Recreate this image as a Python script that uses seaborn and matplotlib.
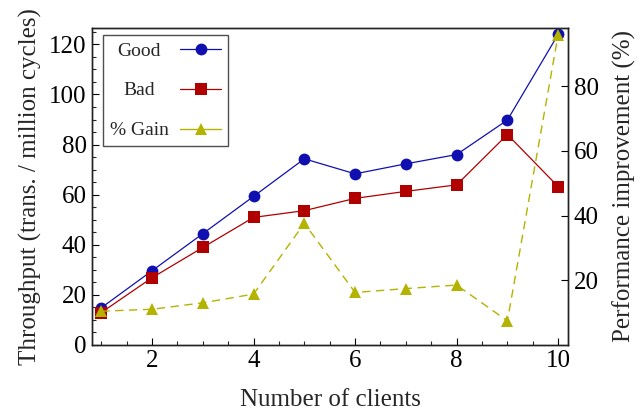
import matplotlib
matplotlib.use('Agg')
import matplotlib.pyplot as plt
from matplotlib.lines import Line2D
from matplotlib.ticker import MultipleLocator
import seaborn as sns

# Data
clients = [1, 2, 3, 4, 5, 6, 7, 8, 9, 10]
good = [14.8, 29.6, 44.4, 59.3, 74.3, 68.3, 72.3, 76.0, 89.8, 124.0]
bad = [12.9, 26.8, 38.9, 50.9, 53.6, 58.5, 61.3, 63.9, 84.0, 63.2]
gain = [10.4, 11.0, 13.0, 15.7, 37.6, 16.2, 17.4, 18.5, 7.4, 96.0]
series_names = ['Good', 'Bad', '% Gain']

sns.set_style('ticks')
plt.rcParams['font.family'] = ['Liberation Serif', 'DejaVu Serif']

c_good, c_bad, c_gain = '#1010b0', '#b00000', '#b3b300'

fig = plt.figure(figsize=(6.4, 4.2), dpi=100)
ax = fig.add_axes([0.144, 0.179, 0.744, 0.754])
ax2 = ax.twinx()

sns.lineplot(x=clients, y=good, ax=ax, color=c_good, marker='o', markersize=8.5,
             markeredgewidth=0, linewidth=0.9, legend=False)
sns.lineplot(x=clients, y=bad, ax=ax, color=c_bad, marker='s', markersize=8.5,
             markeredgewidth=0, linewidth=0.9, legend=False)
sns.lineplot(x=clients, y=gain, ax=ax2, color=c_gain, marker='^', markersize=8.5,
             markeredgewidth=0, linewidth=1.0, linestyle=(0, (6, 4)), legend=False)

for line in ax.get_lines() + ax2.get_lines():
    line.set_clip_on(False)

ax.set_xlim(0.82, 10.2)
ax.set_ylim(0, 126.5)
ax2.set_ylim(0, 98)

ax.xaxis.set_major_locator(MultipleLocator(2))
ax.xaxis.set_minor_locator(MultipleLocator(0.5))
ax.yaxis.set_major_locator(MultipleLocator(20))
ax.yaxis.set_minor_locator(MultipleLocator(5))
ax2.set_yticks([20, 40, 60, 80])

ax.tick_params(axis='both', which='major', direction='in', length=5, width=0.8,
               labelsize=18, colors='black', top=False, right=False, pad=4)
ax.tick_params(axis='both', which='minor', direction='in', length=3, width=0.8,
               top=False, right=False)
ax2.tick_params(axis='y', which='major', direction='in', length=5, width=0.8,
                labelsize=18, colors='black', pad=4)

for a in (ax, ax2):
    for s in a.spines.values():
        s.set_visible(True)
        s.set_color('#222222')
        s.set_linewidth(1.0)

ax.set_xlabel('Number of clients', fontsize=18, labelpad=12)
ax.set_ylabel('Throughput (trans. / million cycles)', fontsize=18, labelpad=5)
ax2.set_ylabel('Performance improvement (%)', fontsize=18, labelpad=10)

# legend handles: solid lines with markers, text before marker
handles = [
    Line2D([], [], color=c_good, marker='o', markersize=8.5, markeredgewidth=0, linewidth=0.9),
    Line2D([], [], color=c_bad, marker='s', markersize=8.5, markeredgewidth=0, linewidth=0.9),
    Line2D([], [], color=c_gain, marker='^', markersize=8.5, markeredgewidth=0, linewidth=1.0),
]
leg = ax2.legend(handles, series_names, loc='upper left',
                 bbox_to_anchor=(0.023, 0.978), markerfirst=False, fontsize=14,
                 handlelength=2.1, labelspacing=1.15, frameon=True, fancybox=False,
                 borderpad=0.35, handletextpad=0.6, borderaxespad=0)
leg.get_frame().set_edgecolor('#222222')
leg.get_frame().set_linewidth(1.0)
leg.set_zorder(10)

# centre the legend labels within their column
fig.canvas.draw()
renderer = fig.canvas.get_renderer()
texts = leg.get_texts()
widths = [t.get_window_extent(renderer).width for t in texts]
wmax = max(widths)
for t, w in zip(texts, widths):
    t.set_x(-(wmax - w) / 2)

fig.savefig('out.png', dpi=100, facecolor='white')
